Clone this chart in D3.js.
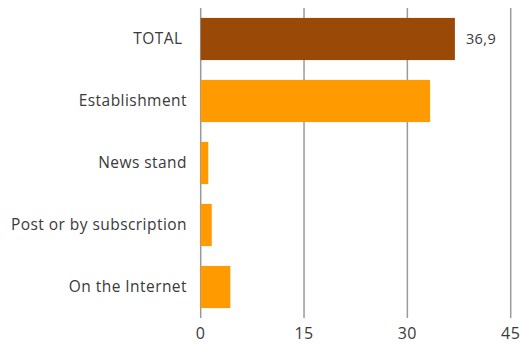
<!DOCTYPE html>
<html><head><meta charset="utf-8">
<script src="https://cdn.jsdelivr.net/npm/d3@7"></script>
<style>body{margin:0;background:#fff;} text{font-family:"Open Sans",sans-serif;}</style>
</head><body><svg id="c" width="521" height="347"></svg>
<script>
const categories = ["TOTAL", "Establishment", "News stand", "Post or by subscription", "On the Internet"];
const values = [36.9, 33.3, 1.1, 1.6, 4.3];
const colors = ["#9a4a06", "#ff9a00", "#ff9a00", "#ff9a00", "#ff9a00"];
const ticks = [0, 15, 30, 45];
const valueLabels = ["36,9", "", "", "", ""];

const svg = d3.select("#c");
const x = d3.scaleLinear().domain([0, 45]).range([200.7, 510.7]);
const y = d3.scaleBand().domain(categories).range([8, 318]).paddingInner(0.32).paddingOuter(0.16);

svg.append("g").selectAll("line").data(ticks).join("line")
  .attr("x1", d => x(d)).attr("x2", d => x(d))
  .attr("y1", 8).attr("y2", 318)
  .attr("stroke", "#9a9a9a").attr("stroke-width", 1.5);

svg.append("g").selectAll("text").data(ticks).join("text")
  .attr("x", d => x(d)).attr("y", 339)
  .attr("text-anchor", "middle").attr("font-size", 16).attr("fill", "#3a3a3a")
  .attr("letter-spacing", 0.5)
  .text(d => d);

svg.append("g").selectAll("rect").data(categories).join("rect")
  .attr("x", x(0)).attr("y", d => y(d))
  .attr("width", (d, i) => x(values[i]) - x(0)).attr("height", y.bandwidth())
  .attr("fill", (d, i) => colors[i]);

svg.append("g").selectAll("text").data(categories).join("text")
  .attr("x", 187).attr("y", d => y(d) + y.bandwidth() / 2 + 5)
  .attr("text-anchor", "end").attr("font-size", 15.5).attr("fill", "#3a3a3a")
  .attr("letter-spacing", 0.45)
  .text(d => d === "TOTAL" ? "TOTAL\u00a0" : d);

svg.append("g").selectAll("text").data(categories).join("text")
  .attr("x", (d, i) => x(values[i]) + 11).attr("y", d => y(d) + y.bandwidth() / 2 + 5)
  .attr("font-size", 14.5).attr("fill", "#3a3a3a").attr("letter-spacing", 0.4)
  .text((d, i) => valueLabels[i]);
</script></body></html>
